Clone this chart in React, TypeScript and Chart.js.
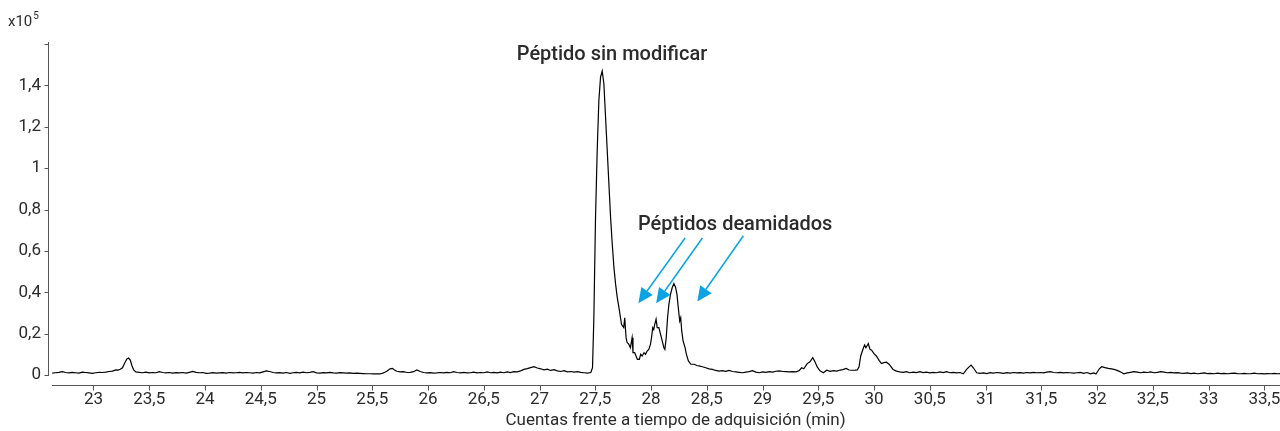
import React, { useEffect, useRef } from "react";
import { Chart, registerables } from "chart.js";

Chart.register(...registerables);

// Retention time (min)
const times: number[] = [
  22.63, 22.66, 22.69, 22.72, 22.75, 22.78, 22.81, 22.84, 22.87, 22.9, 22.93, 22.96, 22.99, 23.02, 23.05, 23.08,
  23.11, 23.14, 23.17, 23.2, 23.22, 23.24, 23.26, 23.28, 23.3, 23.315, 23.33, 23.345, 23.36, 23.38, 23.41, 23.44,
  23.47, 23.5, 23.53, 23.56, 23.59, 23.62, 23.65, 23.68, 23.71, 23.74, 23.77, 23.8, 23.83, 23.86, 23.89, 23.92,
  23.95, 23.98, 24.01, 24.04, 24.07, 24.1, 24.13, 24.16, 24.19, 24.22, 24.25, 24.28, 24.31, 24.34, 24.37, 24.4,
  24.43, 24.46, 24.49, 24.52, 24.55, 24.58, 24.61, 24.64, 24.67, 24.7, 24.73, 24.76, 24.79, 24.82, 24.85, 24.88,
  24.91, 24.94, 24.97, 25.0, 25.03, 25.06, 25.09, 25.12, 25.15, 25.18, 25.21, 25.24, 25.27, 25.3, 25.33, 25.36,
  25.39, 25.42, 25.45, 25.48, 25.51, 25.54, 25.57, 25.6, 25.63, 25.66, 25.68, 25.7, 25.72, 25.75, 25.78, 25.81,
  25.84, 25.87, 25.9, 25.93, 25.96, 25.99, 26.02, 26.05, 26.08, 26.11, 26.14, 26.17, 26.2, 26.23, 26.26, 26.29,
  26.32, 26.35, 26.38, 26.41, 26.44, 26.47, 26.5, 26.53, 26.56, 26.59, 26.62, 26.65, 26.68, 26.71, 26.74, 26.77,
  26.8, 26.83, 26.86, 26.89, 26.92, 26.95, 26.98, 27.01, 27.04, 27.07, 27.1, 27.13, 27.16, 27.19, 27.22, 27.25,
  27.28, 27.31, 27.34, 27.37, 27.4, 27.43, 27.46, 27.475, 27.487, 27.502, 27.517, 27.532, 27.547, 27.562, 27.577, 27.592,
  27.607, 27.622, 27.637, 27.652, 27.667, 27.682, 27.697, 27.712, 27.735, 27.755, 27.764, 27.776, 27.785, 27.8, 27.815, 27.83,
  27.838, 27.853, 27.865, 27.877, 27.895, 27.907, 27.92, 27.937, 27.95, 27.965, 27.98, 27.995, 28.004, 28.015, 28.024, 28.033,
  28.045, 28.055, 28.07, 28.085, 28.1, 28.115, 28.124, 28.136, 28.148, 28.16, 28.175, 28.19, 28.205, 28.22, 28.232, 28.244,
  28.257, 28.266, 28.275, 28.287, 28.305, 28.317, 28.335, 28.357, 28.387, 28.41, 28.43, 28.46, 28.49, 28.52, 28.55, 28.58,
  28.61, 28.64, 28.67, 28.7, 28.73, 28.76, 28.79, 28.82, 28.85, 28.88, 28.91, 28.94, 28.97, 29.0, 29.03, 29.06,
  29.09, 29.12, 29.15, 29.18, 29.21, 29.24, 29.27, 29.3, 29.33, 29.35, 29.37, 29.4, 29.425, 29.45, 29.47, 29.49,
  29.515, 29.545, 29.575, 29.605, 29.635, 29.665, 29.695, 29.72, 29.75, 29.775, 29.8, 29.83, 29.85, 29.865, 29.88, 29.905,
  29.915, 29.927, 29.948, 29.963, 29.978, 29.999, 30.02, 30.045, 30.066, 30.087, 30.11, 30.135, 30.17, 30.2, 30.23, 30.26,
  30.29, 30.32, 30.35, 30.38, 30.41, 30.44, 30.47, 30.5, 30.53, 30.56, 30.59, 30.62, 30.65, 30.68, 30.71, 30.74,
  30.77, 30.8, 30.83, 30.85, 30.87, 30.89, 30.92, 30.95, 30.98, 31.01, 31.04, 31.07, 31.1, 31.13, 31.16, 31.19,
  31.22, 31.25, 31.28, 31.31, 31.34, 31.37, 31.4, 31.43, 31.46, 31.49, 31.52, 31.55, 31.58, 31.61, 31.64, 31.67,
  31.7, 31.73, 31.76, 31.79, 31.82, 31.85, 31.88, 31.91, 31.94, 31.97, 31.99, 32.02, 32.04, 32.07, 32.1, 32.13,
  32.16, 32.19, 32.22, 32.24, 32.27, 32.3, 32.33, 32.36, 32.39, 32.42, 32.45, 32.48, 32.51, 32.54, 32.57, 32.6,
  32.63, 32.66, 32.69, 32.72, 32.75, 32.78, 32.81, 32.84, 32.87, 32.9, 32.93, 32.96, 32.99, 33.02, 33.05, 33.08,
  33.11, 33.14, 33.17, 33.2, 33.23, 33.26, 33.29, 33.32, 33.35, 33.38, 33.41, 33.44, 33.47, 33.5, 33.53, 33.56,
  33.59, 33.62, 33.64,
];

// Counts (x10^5)
const counts: number[] = [
  0.009, 0.011, 0.013, 0.016, 0.012, 0.01, 0.013, 0.011, 0.009, 0.014, 0.012, 0.01, 0.008, 0.011, 0.013, 0.012,
  0.014, 0.017, 0.019, 0.025, 0.024, 0.028, 0.035, 0.058, 0.078, 0.082, 0.072, 0.045, 0.025, 0.015, 0.013, 0.011,
  0.014, 0.01, 0.012, 0.011, 0.016, 0.012, 0.01, 0.012, 0.009, 0.011, 0.01, 0.012, 0.009, 0.013, 0.017, 0.013,
  0.011, 0.012, 0.008, 0.009, 0.011, 0.009, 0.01, 0.011, 0.009, 0.012, 0.01, 0.011, 0.013, 0.01, 0.012, 0.011,
  0.009, 0.012, 0.01, 0.015, 0.02, 0.017, 0.012, 0.01, 0.011, 0.009, 0.012, 0.008, 0.011, 0.013, 0.01, 0.014,
  0.011, 0.013, 0.016, 0.01, 0.009, 0.011, 0.01, 0.013, 0.01, 0.009, 0.011, 0.01, 0.009, 0.01, 0.008, 0.009,
  0.008, 0.007, 0.006, 0.006, 0.005, 0.006, 0.005, 0.01, 0.018, 0.03, 0.032, 0.024, 0.018, 0.015, 0.016, 0.012,
  0.013, 0.016, 0.024, 0.017, 0.012, 0.01, 0.011, 0.009, 0.01, 0.012, 0.01, 0.013, 0.011, 0.016, 0.012, 0.01,
  0.013, 0.01, 0.011, 0.014, 0.01, 0.012, 0.011, 0.015, 0.011, 0.013, 0.01, 0.014, 0.011, 0.015, 0.012, 0.016,
  0.015, 0.02, 0.027, 0.031, 0.036, 0.04, 0.034, 0.03, 0.025, 0.028, 0.022, 0.026, 0.02, 0.017, 0.021, 0.015,
  0.017, 0.014, 0.016, 0.013, 0.011, 0.009, 0.012, 0.035, 0.277, 0.762, 1.085, 1.327, 1.44, 1.469, 1.408, 1.246,
  1.085, 0.923, 0.762, 0.633, 0.52, 0.439, 0.374, 0.326, 0.245, 0.229, 0.277, 0.18, 0.157, 0.149, 0.132, 0.18,
  0.108, 0.108, 0.092, 0.076, 0.076, 0.1, 0.092, 0.108, 0.1, 0.116, 0.124, 0.149, 0.18, 0.229, 0.22, 0.245,
  0.27, 0.229, 0.229, 0.197, 0.165, 0.132, 0.124, 0.18, 0.277, 0.342, 0.391, 0.423, 0.442, 0.423, 0.391, 0.326,
  0.261, 0.277, 0.213, 0.165, 0.132, 0.1, 0.068, 0.052, 0.052, 0.046, 0.044, 0.04, 0.035, 0.03, 0.027, 0.022,
  0.019, 0.021, 0.018, 0.022, 0.017, 0.015, 0.013, 0.011, 0.014, 0.016, 0.021, 0.014, 0.011, 0.015, 0.013, 0.016,
  0.014, 0.018, 0.02, 0.017, 0.016, 0.015, 0.016, 0.015, 0.022, 0.035, 0.03, 0.055, 0.064, 0.084, 0.064, 0.039,
  0.02, 0.011, 0.023, 0.018, 0.021, 0.019, 0.024, 0.026, 0.032, 0.024, 0.023, 0.024, 0.025, 0.04, 0.092, 0.132,
  0.145, 0.132, 0.152, 0.124, 0.12, 0.103, 0.092, 0.071, 0.055, 0.06, 0.062, 0.052, 0.027, 0.019, 0.015, 0.013,
  0.016, 0.011, 0.014, 0.012, 0.016, 0.012, 0.014, 0.01, 0.013, 0.011, 0.015, 0.012, 0.016, 0.011, 0.013, 0.01,
  0.012, 0.006, 0.027, 0.038, 0.048, 0.035, 0.011, 0.008, 0.01, 0.007, 0.011, 0.009, 0.012, 0.01, 0.008, 0.011,
  0.009, 0.012, 0.01, 0.011, 0.009, 0.012, 0.01, 0.013, 0.011, 0.012, 0.01, 0.014, 0.016, 0.012, 0.011, 0.013,
  0.01, 0.012, 0.011, 0.009, 0.011, 0.013, 0.008, 0.012, 0.006, 0.01, 0.005, 0.03, 0.04, 0.036, 0.032, 0.03,
  0.026, 0.02, 0.012, 0.006, 0.01, 0.013, 0.016, 0.014, 0.011, 0.014, 0.012, 0.015, 0.011, 0.013, 0.016, 0.014,
  0.011, 0.013, 0.01, 0.011, 0.009, 0.008, 0.01, 0.007, 0.009, 0.006, 0.008, 0.01, 0.007, 0.008, 0.006, 0.009,
  0.007, 0.008, 0.006, 0.008, 0.009, 0.007, 0.006, 0.008, 0.006, 0.007, 0.009, 0.006, 0.007, 0.005, 0.007, 0.006,
  0.008, 0.006, 0.007,
];

const X_MIN = 22.628;
const X_MAX = 33.64;
const Y_MIN = 0;
const Y_MAX = 1.6;
const X_STEP = 0.5;
const Y_STEP = 0.2;

const xTitle = "Cuentas frente a tiempo de adquisición (min)";
const xTitleCenter = 28.22; // in minutes, where the title is centred
const yUnit = "x10";
const yUnitExp = "5";

// Annotation labels [text, x (min), y (x10^5)]
const labelTexts = ["Péptido sin modificar", "Péptidos deamidados"];
const labelX = [27.65, 28.754];
const labelY = [1.545, 0.726];

// Arrows: tail -> tip in data coordinates
const arrowTailX = [28.305, 28.46, 28.828];
const arrowTailY = [0.662, 0.662, 0.673];
const arrowTipX = [27.886, 28.045, 28.415];
const arrowTipY = [0.347, 0.347, 0.355];

const FONT = "Roboto, 'Noto Sans', sans-serif";
const TEXT_COLOR = "#2b2b2b";
const AXIS_COLOR = "#555555";
const ARROW_COLOR = "#0ba3e4";

const fmt = (v: number) => {
  const r = Math.round(v * 10) / 10;
  return String(r).replace(".", ",");
};

const overlayPlugin = {
  id: "overlay",
  afterDraw(chart: any) {
    const { ctx, chartArea, scales } = chart;
    const xs = scales.x;
    const ys = scales.y;
    ctx.save();
    // y axis line + ticks
    const yAxisX = chartArea.left - 3.5;
    ctx.strokeStyle = AXIS_COLOR;
    ctx.lineWidth = 1;
    ctx.beginPath();
    ctx.moveTo(yAxisX, ys.getPixelForValue(Y_MAX) - 2);
    ctx.lineTo(yAxisX, ys.getPixelForValue(Y_MIN) + 1);
    ys.ticks.forEach((t: any) => {
      const py = Math.round(ys.getPixelForValue(t.value)) + 0.5;
      ctx.moveTo(yAxisX - 4, py);
      ctx.lineTo(yAxisX, py);
    });
    ctx.stroke();
    // x axis line + ticks
    const xAxisY = Math.round(chartArea.bottom + 10) + 0.5;
    ctx.beginPath();
    ctx.moveTo(chartArea.left, xAxisY);
    ctx.lineTo(chartArea.right, xAxisY);
    xs.ticks.forEach((t: any) => {
      const px = Math.round(xs.getPixelForValue(t.value)) + 0.5;
      ctx.moveTo(px, xAxisY);
      ctx.lineTo(px, xAxisY + 5);
    });
    ctx.stroke();

    // x axis title
    ctx.fillStyle = TEXT_COLOR;
    ctx.font = `17px ${FONT}`;
    ctx.textAlign = "center";
    ctx.textBaseline = "middle";
    ctx.fillText(xTitle, xs.getPixelForValue(xTitleCenter), chart.height - 10);

    // unit label
    ctx.textAlign = "left";
    ctx.textBaseline = "alphabetic";
    ctx.font = `15px ${FONT}`;
    ctx.fillText(yUnit, 8, 26);
    const w = ctx.measureText(yUnit).width;
    ctx.font = `10px ${FONT}`;
    ctx.fillText(yUnitExp, 8 + w + 1, 19);

    // annotation texts
    ctx.font = `500 20px ${FONT}`;
    ctx.textAlign = "center";
    ctx.textBaseline = "middle";
    labelTexts.forEach((txt, i) => {
      ctx.fillText(txt, xs.getPixelForValue(labelX[i]), ys.getPixelForValue(labelY[i]));
    });

    // arrows
    ctx.strokeStyle = ARROW_COLOR;
    ctx.fillStyle = ARROW_COLOR;
    ctx.lineWidth = 1.5;
    arrowTailX.forEach((_, i) => {
      const x1 = xs.getPixelForValue(arrowTailX[i]);
      const y1 = ys.getPixelForValue(arrowTailY[i]);
      const x2 = xs.getPixelForValue(arrowTipX[i]);
      const y2 = ys.getPixelForValue(arrowTipY[i]);
      const ang = Math.atan2(y2 - y1, x2 - x1);
      const headLen = 15;
      const headW = 7;
      const bx = x2 - headLen * Math.cos(ang);
      const by = y2 - headLen * Math.sin(ang);
      ctx.beginPath();
      ctx.moveTo(x1, y1);
      ctx.lineTo(bx, by);
      ctx.stroke();
      ctx.beginPath();
      ctx.moveTo(x2, y2);
      ctx.lineTo(bx + headW * Math.sin(ang), by - headW * Math.cos(ang));
      ctx.lineTo(bx - headW * Math.sin(ang), by + headW * Math.cos(ang));
      ctx.closePath();
      ctx.fill();
    });
    ctx.restore();
  },
};

export default function App() {
  const ref = useRef<HTMLCanvasElement | null>(null);
  useEffect(() => {
    if (!ref.current) return;
    const data = times.map((t, i) => ({ x: t, y: counts[i] }));
    const chart = new Chart(ref.current, {
      type: "line",
      data: {
        datasets: [
          {
            data,
            borderColor: "#000000",
            borderWidth: 1.2,
            pointRadius: 0,
            tension: 0,
            fill: false,
          },
        ],
      },
      options: {
        animation: false,
        responsive: false,
        maintainAspectRatio: false,
        layout: { padding: { top: 44, right: 0, left: 0, bottom: 0 } },
        plugins: { legend: { display: false }, tooltip: { enabled: false } },
        scales: {
          x: {
            type: "linear",
            min: X_MIN,
            max: X_MAX,
            afterFit: (s: any) => {
              s.height = 56;
              s.paddingLeft = 0;
              s.paddingRight = 0;
            },
            grid: { display: false, drawTicks: false },
            border: { display: false },
            ticks: {
              stepSize: X_STEP,
              includeBounds: false,
              autoSkip: false,
              maxRotation: 0,
              padding: 15,
              color: TEXT_COLOR,
              font: { family: FONT, size: 17 },
              callback: (v: any) => fmt(Number(v)),
            },
            title: { display: false },
          },
          y: {
            min: Y_MIN,
            max: Y_MAX,
            afterFit: (s: any) => {
              s.width = 52;
              s.paddingTop = 0;
              s.paddingBottom = 0;
            },
            grid: { display: false, drawTicks: false },
            border: { display: false },
            ticks: {
              stepSize: Y_STEP,
              padding: 11,
              color: TEXT_COLOR,
              font: { family: FONT, size: 17 },
              callback: (v: any) => (Math.abs(Number(v) - Y_MAX) < 1e-6 ? "" : fmt(Number(v))),
            },
          },
        },
      },
      plugins: [overlayPlugin],
    });
    return () => chart.destroy();
  }, []);
  return (
    <div style={{ position: "fixed", left: 0, top: 0, width: 1280, height: 431, background: "#fff" }}>
      <canvas ref={ref} width={1280} height={431} style={{ width: 1280, height: 431 }} />
    </div>
  );
}
